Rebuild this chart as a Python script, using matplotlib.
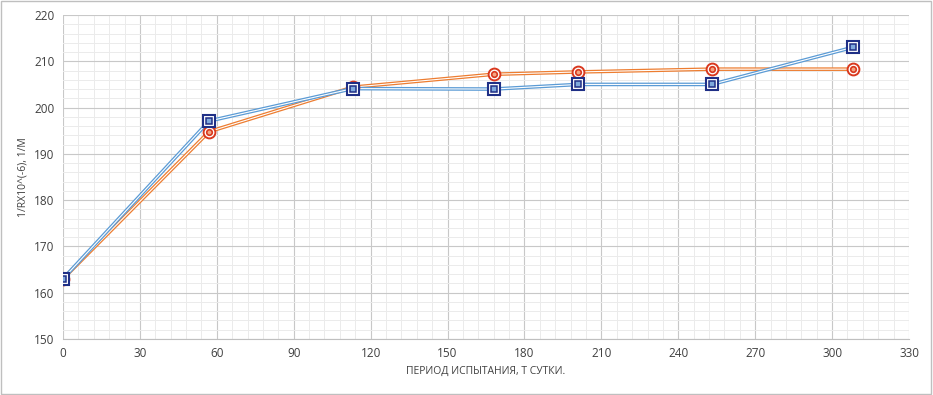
import matplotlib.pyplot as plt
from matplotlib.ticker import MultipleLocator

days = [0, 57, 113, 168, 201, 253, 308]
blue = [163, 197.1, 204.1, 204.0, 205.0, 205.0, 213.0]
orange = [163, 194.8, 204.4, 207.2, 207.7, 208.3, 208.3]

plt.rcParams['font.family'] = ['Open Sans', 'DejaVu Sans']

fig = plt.figure(figsize=(9.33, 3.95), dpi=100)
ax = fig.add_axes([63 / 933, 1 - 339 / 395, 846 / 933, 324 / 395])

# frame round the figure
fig.patches.append(plt.Rectangle((0.001, 0.002), 0.997, 0.995, transform=fig.transFigure,
                                 fill=False, edgecolor="#BFBFBF", linewidth=1))


def double_line(x, y, color, z):
    ax.plot(x, y, color=color, linewidth=2.6, zorder=z, solid_capstyle="round")
    ax.plot(x, y, color="white", linewidth=0.8, zorder=z + 0.1)


double_line(days, orange, "#ED7D31", 3)
double_line(days, blue, "#5B9BD5", 4)

# orange circle markers
ax.plot(days, orange, linestyle="none", marker="o", markersize=8.5, markerfacecolor="white",
        markeredgecolor="#D9381E", markeredgewidth=1.4, zorder=5)
ax.plot(days, orange, linestyle="none", marker="o", markersize=4, markerfacecolor="#F4A582",
        markeredgecolor="#D9381E", markeredgewidth=1.2, zorder=5.1)

# blue square markers
ax.plot(days, blue, linestyle="none", marker="s", markersize=8.5, markerfacecolor="white",
        markeredgecolor="#1F2F86", markeredgewidth=1.5, zorder=6)
ax.plot(days, blue, linestyle="none", marker="s", markersize=4, markerfacecolor="#7FA9DC",
        markeredgecolor="#1F2F86", markeredgewidth=1.1, zorder=6.1)

ax.set_xlim(0, 330)
ax.set_ylim(150, 220)
ax.xaxis.set_major_locator(MultipleLocator(30))
ax.xaxis.set_minor_locator(MultipleLocator(6))
ax.yaxis.set_major_locator(MultipleLocator(10))
ax.yaxis.set_minor_locator(MultipleLocator(2))

ax.grid(which="major", color="#C8C8C8", linewidth=0.8)
ax.grid(which="minor", color="#EBEBEB", linewidth=0.7)
ax.set_axisbelow(True)

for side in ["top", "right", "left"]:
    ax.spines[side].set_visible(False)
ax.spines["bottom"].set_color("#BFBFBF")
ax.tick_params(which="both", length=0, labelsize=8.5, labelcolor="#404040", pad=6)

ax.set_xlabel("ПЕРИОД ИСПЫТАНИЯ, Т СУТКИ.", fontsize=7.5, color="#404040", labelpad=4)
ax.set_ylabel("1/RX10^(-6), 1/M", fontsize=7.5, color="#404040", labelpad=4)

fig.savefig("out.png", dpi=100)
